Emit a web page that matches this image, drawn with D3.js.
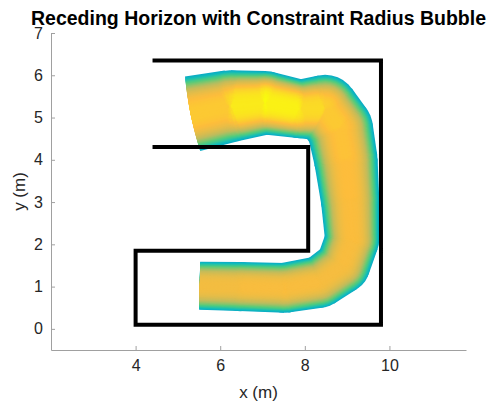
<!DOCTYPE html>
<html>
<head>
<meta charset="utf-8">
<script src="https://cdn.jsdelivr.net/npm/d3@7"></script>
<style>
  body { margin: 0; background: #fff; }
  text { font-family: "Liberation Sans", Arial, sans-serif; }
</style>
</head>
<body>
<svg id="chart" width="493" height="403"></svg>
<script>
// wall polyline (m)
const wallX = [4.4, 9.8, 9.8, 4.0, 4.0, 8.08, 8.08, 4.4];
const wallY = [6.35, 6.35, 0.1, 0.1, 1.85, 1.85, 4.3, 4.3];

// bubble centres along the receding horizon path (m)
const pathX = [5.52, 6.47, 7.53, 8.36, 8.90, 9.12, 9.07, 8.97, 8.83, 8.48, 7.89, 7.06, 6.23, 5.30];
const pathY = [1.02, 1.00, 0.97, 1.11, 1.49, 2.11, 3.05, 4.00, 4.75, 5.23, 5.20, 5.35, 5.27, 5.08];
const radius = [0.57, 0.58, 0.59, 0.61, 0.64, 0.64, 0.69, 0.75, 0.78, 0.78, 0.69, 0.75, 0.85, 0.90];
// colour value at the centre of each bubble (parula 0..1)
const peak = [0.85, 0.86, 0.87, 0.86, 0.86, 0.87, 0.87, 0.88, 0.89, 0.91, 0.96, 1.0, 0.93, 0.87];
const edgeValue = 0.43;

const xTicks = [4, 6, 8, 10];
const yTicks = [0, 1, 2, 3, 4, 5, 6, 7];

const margin = {top: 33, right: 27, bottom: 53, left: 51},
      width = 493 - margin.left - margin.right,
      height = 403 - margin.top - margin.bottom;

const svg = d3.select("#chart");
const g = svg.append("g")
    .attr("transform", "translate(" + margin.left + "," + margin.top + ")");

const x = d3.scaleLinear().domain([2, 11.81]).range([0, width]);
const y = d3.scaleLinear().domain([-0.5, 7]).range([height, 0]);
const pxPerUnit = x(3) - x(2);

// parula colormap
const parula = d3.scaleLinear()
    .domain([0, 0.125, 0.25, 0.375, 0.5, 0.625, 0.75, 0.875, 1])
    .range(["#3e26a8", "#4752f4", "#2796eb", "#079dcf", "#12beb9",
            "#57cc7a", "#c0bc5c", "#fdbd3c", "#f9fb0e"])
    .clamp(true);

// outline of two bubbles joined by their common tangents
function hull(i, s) {
    const x1 = x(pathX[i]), y1 = y(pathY[i]), r1 = radius[i] * s * pxPerUnit;
    const x2 = x(pathX[i + 1]), y2 = y(pathY[i + 1]), r2 = radius[i + 1] * s * pxPerUnit;
    const dx = x2 - x1, dy = y2 - y1, d = Math.hypot(dx, dy);
    const a = Math.atan2(dy, dx), t = Math.acos(Math.max(-1, Math.min(1, (r1 - r2) / d)));
    const p = (cx, cy, r, ang) => [cx + r * Math.cos(ang), cy + r * Math.sin(ang)];
    const pts = [p(x1, y1, r1, a + t), p(x2, y2, r2, a + t), p(x2, y2, r2, a - t), p(x1, y1, r1, a - t)];
    return "M" + pts.map(q => q.join(",")).join("L") + "Z";
}

// tube of bubbles, drawn as nested layers from the rim inwards
const tube = g.append("g");
const layers = 34;
const segs = d3.range(pathX.length - 1);
const joints = d3.range(1, pathX.length - 1);
for (let k = 0; k < layers; k++) {
    const s = 1 - k / layers;
    const shape = 1 - s * s * s;
    const layer = tube.append("g");
    layer.selectAll("path")
        .data(segs)
        .enter()
        .append("path")
            .attr("d", i => hull(i, s))
            .attr("fill", i => parula(edgeValue + ((peak[i] + peak[i + 1]) / 2 - edgeValue) * shape));
    layer.selectAll("circle")
        .data(joints)
        .enter()
        .append("circle")
            .attr("cx", i => x(pathX[i]))
            .attr("cy", i => y(pathY[i]))
            .attr("r", i => radius[i] * s * pxPerUnit)
            .attr("fill", i => parula(edgeValue + (peak[i] - edgeValue) * shape));
}

// walls
g.append("path")
    .datum(d3.range(wallX.length))
    .attr("fill", "none")
    .attr("stroke", "#000")
    .attr("stroke-width", 4)
    .attr("stroke-linejoin", "miter")
    .attr("d", d3.line().x(i => x(wallX[i])).y(i => y(wallY[i])));

// axes
const xAxis = g.append("g")
    .attr("transform", "translate(0," + height + ")")
    .call(d3.axisBottom(x).tickValues(xTicks).tickSizeInner(-4).tickSizeOuter(0).tickPadding(10));
const yAxis = g.append("g")
    .call(d3.axisLeft(y).tickValues(yTicks).tickSizeInner(-4).tickSizeOuter(0).tickPadding(8));

[xAxis, yAxis].forEach(ax => {
    ax.select(".domain").attr("stroke", "#a0a0a0").attr("stroke-width", 1);
    ax.selectAll(".tick line").attr("stroke", "#a0a0a0");
    ax.selectAll(".tick text")
        .attr("fill", "#262626")
        .style("font-size", "16px")
        .style("font-family", "'Liberation Sans', Arial, sans-serif");
});

// labels
svg.append("text")
    .attr("x", margin.left + width / 2)
    .attr("y", 398)
    .attr("text-anchor", "middle")
    .attr("fill", "#262626")
    .style("font-size", "17px")
    .text("x (m)");

svg.append("text")
    .attr("transform", "translate(25," + (margin.top + height / 2) + ") rotate(-90)")
    .attr("text-anchor", "middle")
    .attr("fill", "#262626")
    .style("font-size", "17px")
    .text("y (m)");

svg.append("text")
    .attr("x", margin.left + width / 2)
    .attr("y", 25)
    .attr("text-anchor", "middle")
    .attr("fill", "#000")
    .style("font-size", "19.5px")
    .style("font-weight", "bold")
    .text("Receding Horizon with Constraint Radius Bubble");
</script>
</body>
</html>
